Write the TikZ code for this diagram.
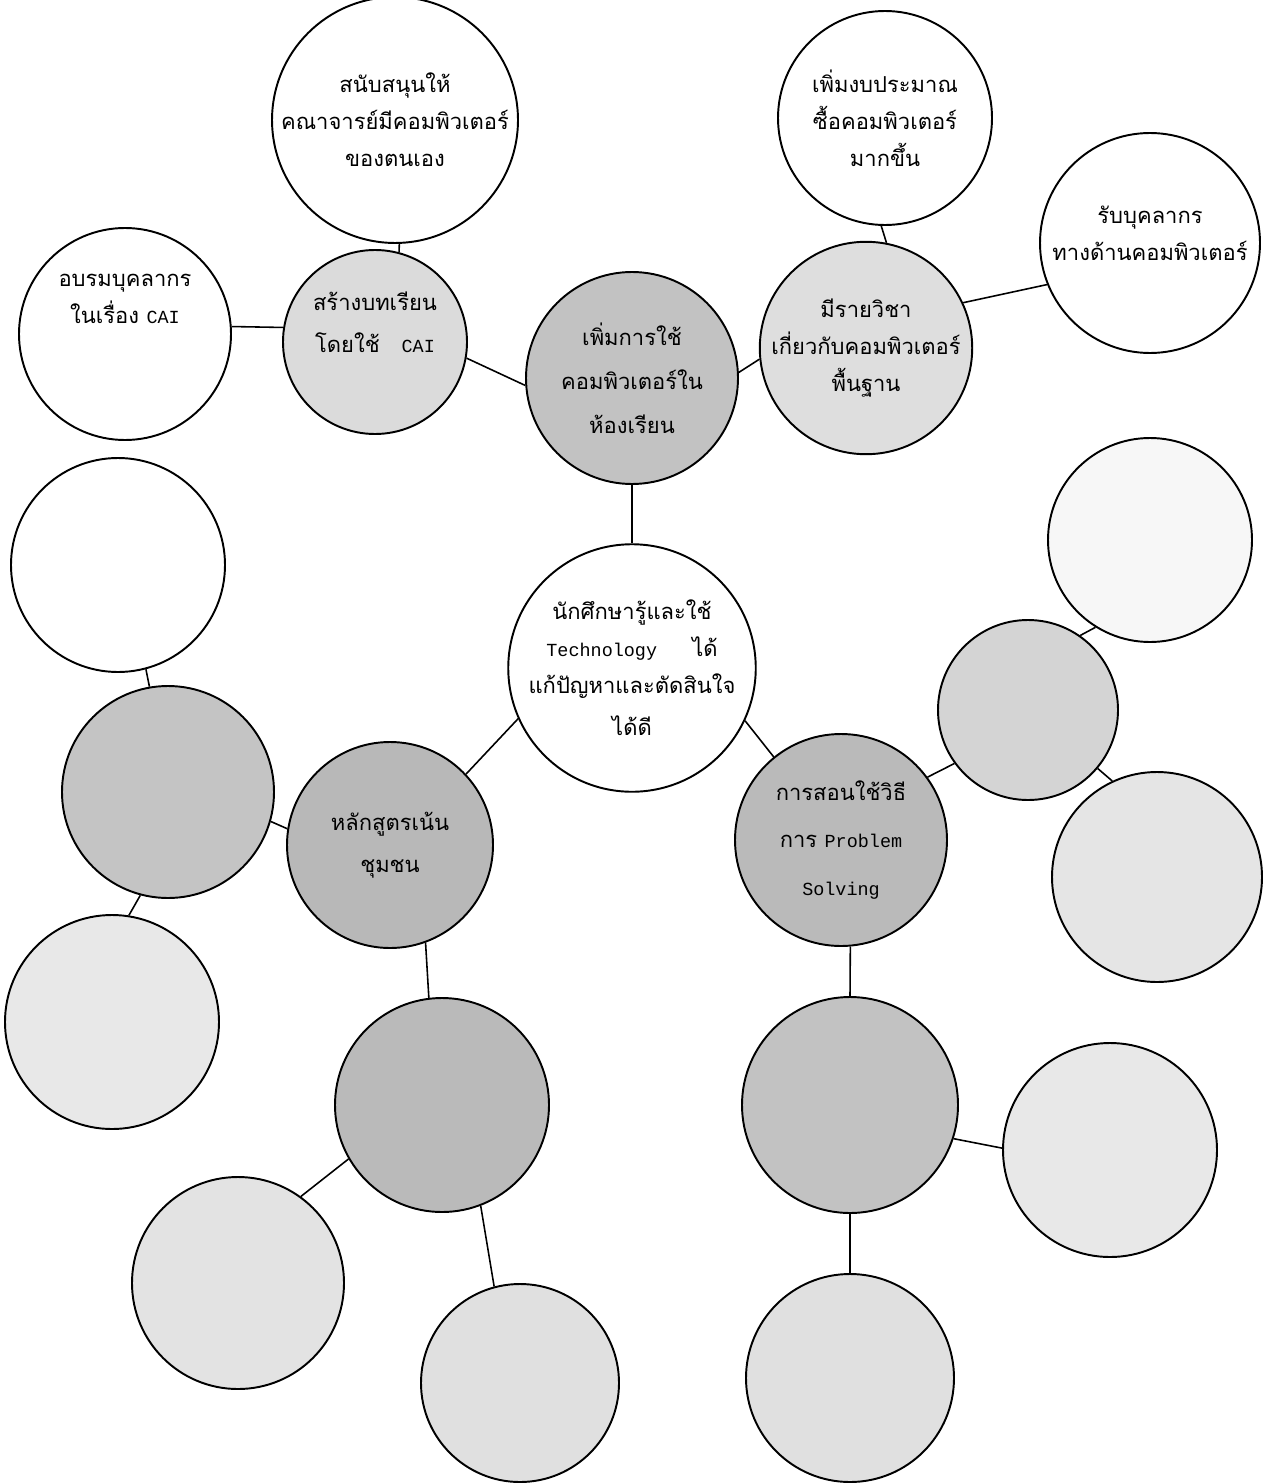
\documentclass[tikz,border=0pt]{standalone}
\usepackage{fontspec}
\newfontfamily\thaifont[Script=Thai]{Loma}
\newfontfamily\typefont{Liberation Mono}
\newcommand{\eng}[1]{{\typefont\fontsize{10.5}{20}\selectfont #1}}

\begin{document}
\begin{tikzpicture}[bubble/.style={circle,draw,line width=1.1pt,inner sep=0pt,align=center,font=\thaifont\fontsize{12.5}{21}\selectfont},
  words/.style={align=center,font=\thaifont\fontsize{12.5}{21}\selectfont},
  deep/.style={fill=black!27}, mid/.style={fill=black!17}, pale/.style={fill=black!10}, link/.style={line width=0.9pt}]
\useasboundingbox (0,0) rectangle (25.3,-29.68);
\node[bubble,minimum size=4.24cm] (support) at (7.90,-2.40) {สนับสนุนให้\\คณาจารย์มีคอมพิวเตอร์\\ของตนเอง};
\node[bubble,minimum size=4.24cm] (train) at (2.50,-6.68) {};
\node[words] at ([yshift=7mm]train.center) {อบรมบุคลากร\\ในเรื่อง \eng{CAI}};
\node[bubble,mid,fill=black!14,minimum size=3.68cm] (lesson) at (7.50,-6.84) {};
\node[words] at ([yshift=4mm]lesson.center) {สร้างบทเรียน\\[3pt]โดยใช้\hspace{1em}\eng{CAI}};
\node[bubble,deep,fill=black!24,minimum size=4.24cm] (usepc) at (12.64,-7.56) {เพิ่มการใช้\\[4pt]คอมพิวเตอร์ใน\\[4pt]ห้องเรียน};
\node[bubble,minimum size=4.08cm] (goal) at (12.64,-13.36) {นักศึกษารู้และใช้\\\eng{Technology}\hspace{1.6em}ได้\\แก้ปัญหาและตัดสินใจ\\[3pt]ได้ดี};
\node[bubble,minimum size=4.28cm] (budget) at (17.70,-2.36) {เพิ่มงบประมาณ\\ซื้อคอมพิวเตอร์\\มากขึ้น};
\node[bubble,pale,fill=black!13,minimum size=3.52cm] (course) at (17.32,-6.96) {มีรายวิชา\\เกี่ยวกับคอมพิวเตอร์\\พื้นฐาน};
\node[bubble,minimum size=4.40cm] (recruit) at (23.00,-4.86) {};
\node[words] at ([yshift=2mm]recruit.center) {รับบุคลากร\\ทางด้านคอมพิวเตอร์};
\node[bubble,deep,fill=black!28,minimum size=4.12cm] (community) at (7.80,-16.90) {หลักสูตรเน้น\\[3pt]ชุมชน};
\node[bubble,deep,minimum size=4.24cm] (solving) at (16.82,-16.80) {การสอนใช้วิธี\\[6pt]การ \eng{Problem}\\[6pt]\eng{Solving}};
\node[bubble,fill=black!3,minimum size=4.08cm] (rightA) at (23.00,-10.80) {};
\node[bubble,mid,minimum size=3.60cm] (rightB) at (20.56,-14.20) {};
\node[bubble,pale,minimum size=4.20cm] (rightC) at (23.14,-17.54) {};
\node[bubble,minimum size=4.28cm] (leftA) at (2.36,-11.30) {};
\node[bubble,deep,fill=black!23,minimum size=4.24cm] (leftB) at (3.36,-15.84) {};
\node[bubble,pale,fill=black!9,minimum size=4.28cm] (leftC) at (2.24,-20.44) {};
\node[bubble,deep,minimum size=4.28cm] (lowA) at (8.84,-22.10) {};
\node[bubble,pale,fill=black!11,minimum size=4.24cm] (lowB) at (4.76,-25.66) {};
\node[bubble,pale,fill=black!12,minimum size=3.96cm] (lowC) at (10.40,-27.66) {};
\node[bubble,deep,fill=black!24,minimum size=4.32cm] (probA) at (17.00,-22.10) {};
\node[bubble,pale,fill=black!9,minimum size=4.28cm] (probB) at (22.20,-23.00) {};
\node[bubble,pale,fill=black!12,minimum size=4.16cm] (probC) at (17.00,-27.56) {};
\draw[link] (support.-88) -- (lesson.75);
\draw[link] (train.4) -- (lesson.171);
\draw[link] (lesson.-10) -- (usepc.184);
\draw[link] (usepc.3) -- (course.186);
\draw[link] (budget.-92) -- (course.79);
\draw[link] (course.25) -- (recruit.202);
\draw[link] (usepc.-90) -- (goal.90);
\draw[link] (goal.204) -- (community.43);
\draw[link] (goal.-25) -- (solving.129);
\draw[link] (solving.36) -- (rightB.216);
\draw[link] (rightB.55) -- (rightA.-122);
\draw[link] (rightB.-40) -- (rightC.115);
\draw[link] (leftA.-75) -- (leftB.100);
\draw[link] (leftB.-16) -- (community.171);
\draw[link] (leftB.-105) -- (leftC.81);
\draw[link] (community.-70) -- (lowA.97);
\draw[link] (lowA.210) -- (lowB.54);
\draw[link] (lowA.-69) -- (lowC.105);
\draw[link] (solving.-85) -- (probA.90);
\draw[link] (probA.-18) -- (probB.179);
\draw[link] (probA.-90) -- (probC.90);
\end{tikzpicture}
\end{document}
